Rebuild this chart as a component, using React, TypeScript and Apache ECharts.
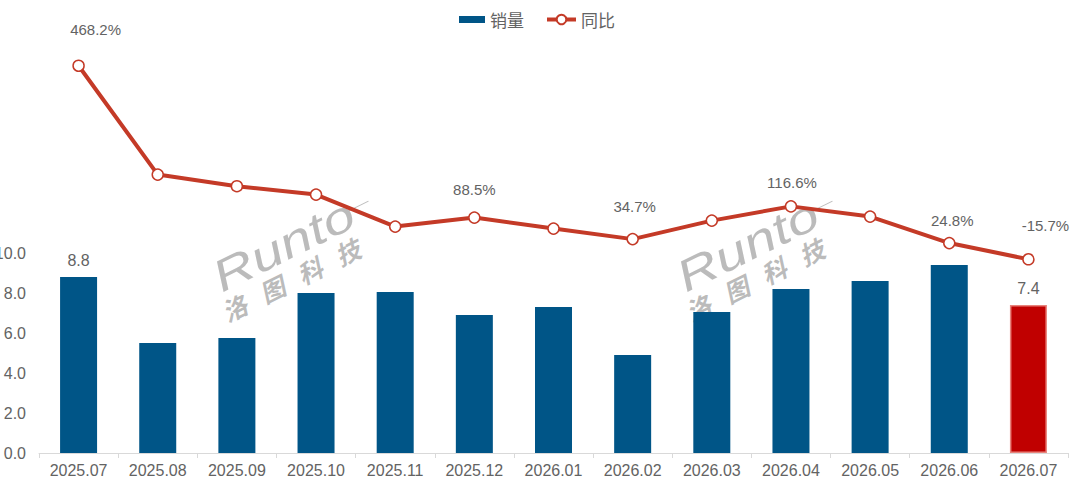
import React, { useEffect, useRef } from "react";
import * as echarts from "echarts";

const months = [
  "2025.07", "2025.08", "2025.09", "2025.10", "2025.11", "2025.12", "2026.01",
  "2026.02", "2026.03", "2026.04", "2026.05", "2026.06", "2026.07",
];
const sales = [8.8, 5.5, 5.75, 8.0, 8.05, 6.9, 7.3, 4.9, 7.05, 8.2, 8.6, 9.4, 7.4];
const yoy = [468.2, 196, 167, 146, 66, 88.5, 61, 34.7, 81, 116.6, 91, 24.8, -15.7];

// only these points carry a label in the picture
const salesLabelled = ["2025.07", "2026.07"];
const yoyLabelOffset: Record<string, [number, number]> = {
  "2025.07": [17, -36],
  "2025.12": [0, -28],
  "2026.02": [2, -33],
  "2026.04": [1, -24],
  "2026.06": [3, -23],
  "2026.07": [17, -34],
};

const TEXT = "#636363";
const FONT = '"Liberation Sans", "Noto Sans CJK SC", sans-serif';
const BLUE = "#005587";
const LINE = "#c43a27";
const MARK = "rgba(175,175,175,0.85)";

const watermark = (x: number, y: number) => ({
  type: "group",
  x,
  y,
  rotation: 0.46,
  z: 20,
  silent: true,
  children: [
    {
      type: "text",
      x: 0,
      y: 0,
      scaleX: 1.3,
      style: {
        text: "Runto",
        font: 'italic 44px "Liberation Sans", sans-serif',
        fill: MARK,
        textVerticalAlign: "bottom",
      },
    },
    {
      type: "line",
      shape: { x1: 150, y1: -24, x2: 172, y2: -24 },
      style: { stroke: MARK, lineWidth: 1 },
    },
    {
      type: "text",
      x: -8,
      y: -1,
      style: {
        text: "洛   图   科   技",
        font: 'italic bold 25px "Noto Sans CJK SC", sans-serif',
        fill: MARK,
      },
    },
  ],
});

const legendText = {
  color: TEXT,
  fontSize: 17,
  fontFamily: '"Noto Sans CJK SC", sans-serif',
};

const App: React.FC = () => {
  const chartRef = useRef<HTMLDivElement>(null);

  useEffect(() => {
    if (!chartRef.current) return;
    const myChart = echarts.init(chartRef.current, undefined, { renderer: "svg" });

    const option: any = {
      animation: false,
      backgroundColor: "#ffffff",
      textStyle: { fontFamily: FONT },
      legend: [
        {
          top: 6,
          left: 454,
          icon: "rect",
          itemWidth: 26,
          itemHeight: 7,
          itemGap: 0,
          textStyle: legendText,
          data: ["销量"],
        },
        {
          top: 6,
          left: 540,
          itemWidth: 29,
          itemHeight: 12,
          lineStyle: { width: 4 },
          textStyle: legendText,
          data: ["同比"],
        },
      ],
      grid: { left: 39, right: 12, top: 33, bottom: 29, outerBoundsMode: "none" },
      xAxis: {
        type: "category",
        data: months,
        axisLine: { lineStyle: { color: "#d9d9d9" } },
        axisTick: { show: true, alignWithLabel: false, length: 5, lineStyle: { color: "#d9d9d9" } },
        axisLabel: { color: TEXT, fontSize: 16, margin: 9, interval: 0 },
      },
      yAxis: [
        {
          type: "value",
          min: 0,
          max: 21,
          interval: 2,
          splitLine: { show: false },
          axisLine: { show: false },
          axisTick: { show: false },
          axisLabel: {
            color: TEXT,
            fontSize: 16,
            margin: 13,
            formatter: (v: number) => (v > 10 ? "" : v.toFixed(1)),
          },
        },
        {
          type: "value",
          min: -500,
          max: 550,
          show: false,
          splitLine: { show: false },
        },
      ],
      series: [
        {
          name: "销量",
          type: "bar",
          barWidth: 37,
          itemStyle: { color: BLUE },
          data: sales.map((v, i) => ({
            value: v,
            itemStyle:
              i === sales.length - 1
                ? { color: "#c00000", borderColor: "#e8837c", borderWidth: 1.5 }
                : undefined,
            label: {
              show: salesLabelled.includes(months[i]),
              position: "top",
              distance: 9,
              color: TEXT,
              fontSize: 16,
              formatter: (p: any) => p.value.toFixed(1),
            },
          })),
        },
        {
          name: "同比",
          type: "line",
          yAxisIndex: 1,
          symbol: "circle",
          symbolSize: 11,
          z: 5,
          lineStyle: { color: LINE, width: 4 },
          itemStyle: { color: "#ffffff", borderColor: LINE, borderWidth: 1.5 },
          data: yoy.map((v, i) => {
            const offset = yoyLabelOffset[months[i]];
            return {
              value: v,
              label: {
                show: !!offset,
                position: "inside",
                offset,
                color: TEXT,
                fontSize: 15,
                formatter: (p: any) => p.value + "%",
              },
            };
          }),
        },
      ],
      graphic: [watermark(225, 299), watermark(689, 299)],
    };

    myChart.setOption(option);

    return () => {
      myChart.dispose();
    };
  }, []);

  return (
    <div
      ref={chartRef}
      style={{ position: "absolute", left: 0, top: 0, width: 1080, height: 482 }}
    />
  );
};

export default App;
